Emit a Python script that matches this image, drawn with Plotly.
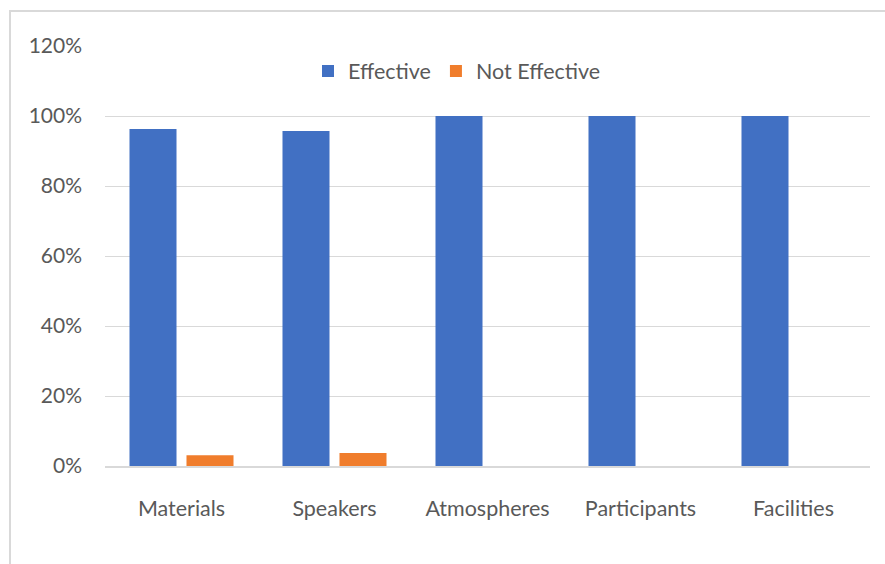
import plotly.graph_objects as go

categories = ["Materials", "Speakers", "Atmospheres", "Participants", "Facilities"]
effective = [0.963, 0.957, 1.0, 1.0, 1.0]
not_effective = [0.031, 0.037, 0.0, 0.0, 0.0]
y_ticks = [0, 0.2, 0.4, 0.6, 0.8, 1.0, 1.2]
y_tick_labels = ["0%", "20%", "40%", "60%", "80%", "100%", "120%"]

font_family = "Lato, 'Open Sans', sans-serif"
text_color = "#595959"

fig = go.Figure()
fig.add_trace(go.Bar(name="Effective", x=categories, y=effective,
                     marker=dict(color="#4170C3", line=dict(width=0))))
fig.add_trace(go.Bar(name="Not Effective", x=categories, y=not_effective,
                     marker=dict(color="#F07D2C", line=dict(width=0))))

W, H = 885, 564
ml, mr, mt, mb = 105, 15, 46, 98
pw, ph = W - ml - mr, H - mt - mb

def px_to_paper_x(px):
    return (px - ml) / pw

def px_to_paper_y(py):
    return 1 - (py - mt) / ph

fig.update_layout(
    width=W, height=H,
    margin=dict(l=ml, r=mr, t=mt, b=mb),
    paper_bgcolor="white", plot_bgcolor="white",
    barmode="group", bargap=0.255, bargroupgap=0.175,
    font=dict(family=font_family, color=text_color, size=21),
    legend=dict(orientation="h", x=px_to_paper_x(457), xanchor="center",
                y=px_to_paper_y(71), yanchor="middle",
                font=dict(size=21.5, color=text_color),
                itemwidth=30, traceorder="normal", bgcolor="rgba(0,0,0,0)"),
    xaxis=dict(showgrid=False, showline=True, linecolor="#D9D9D9", linewidth=1.5,
               ticks="", ticklabelstandoff=22, tickfont=dict(size=21.5, color=text_color)),
    yaxis=dict(range=[0, 1.2], tickvals=y_ticks, ticktext=y_tick_labels,
               showgrid=True, gridcolor="#D9D9D9", gridwidth=1, zeroline=False,
               showline=False, ticks="", ticklabelstandoff=22,
               tickfont=dict(size=21, color=text_color)),
    shapes=[dict(type="rect", xref="paper", yref="paper",
                 x0=px_to_paper_x(10), x1=px_to_paper_x(W + 20),
                 y0=px_to_paper_y(H + 20), y1=px_to_paper_y(11),
                 line=dict(color="#D9D9D9", width=2), fillcolor="rgba(0,0,0,0)",
                 layer="below")],
)

fig.write_html("out.html")
